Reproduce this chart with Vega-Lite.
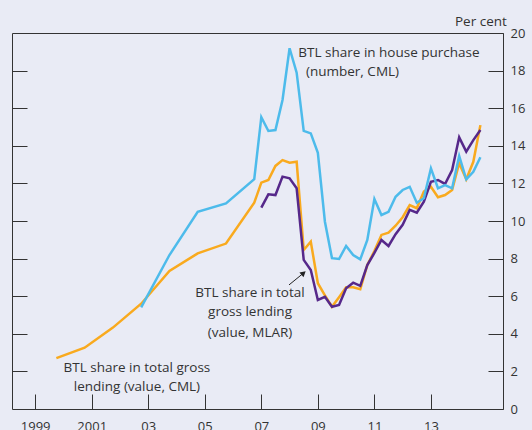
{
  "$schema": "https://vega.github.io/schema/vega-lite/v6.json",
  "autosize": "none",
  "width": 491,
  "height": 376,
  "padding": {"left": 12, "top": 33, "right": 29, "bottom": 21},
  "background": "#e9ebf5",
  "config": {
    "font": "Open Sans",
    "view": {"stroke": "#333333", "strokeWidth": 1},
    "axis": {"labelFont": "Open Sans", "labelFontSize": 13, "labelColor": "#333333", "tickColor": "#333333", "grid": false, "domain": false, "title": null}
  },
  "title": {"text": "Per cent", "anchor": "end", "fontSize": 13.5, "fontWeight": "normal", "color": "#333333", "offset": -1, "dx": -18},
  "datasets": {
    "lines": [
      {"series": "CML value", "t": 1999.75, "v": 2.71},
      {"series": "CML value", "t": 2000.75, "v": 3.26},
      {"series": "CML value", "t": 2001.75, "v": 4.33},
      {"series": "CML value", "t": 2002.75, "v": 5.6},
      {"series": "CML value", "t": 2003.75, "v": 7.34},
      {"series": "CML value", "t": 2004.75, "v": 8.28},
      {"series": "CML value", "t": 2005.75, "v": 8.8},
      {"series": "CML value", "t": 2006.75, "v": 10.97},
      {"series": "CML value", "t": 2007.0, "v": 12.04},
      {"series": "CML value", "t": 2007.25, "v": 12.18},
      {"series": "CML value", "t": 2007.5, "v": 12.93},
      {"series": "CML value", "t": 2007.75, "v": 13.24},
      {"series": "CML value", "t": 2008.0, "v": 13.1},
      {"series": "CML value", "t": 2008.25, "v": 13.15},
      {"series": "CML value", "t": 2008.5, "v": 8.46},
      {"series": "CML value", "t": 2008.75, "v": 8.9},
      {"series": "CML value", "t": 2009.0, "v": 6.69},
      {"series": "CML value", "t": 2009.25, "v": 6.05},
      {"series": "CML value", "t": 2009.5, "v": 5.44},
      {"series": "CML value", "t": 2009.75, "v": 5.95},
      {"series": "CML value", "t": 2010.0, "v": 6.47},
      {"series": "CML value", "t": 2010.25, "v": 6.47},
      {"series": "CML value", "t": 2010.5, "v": 6.37},
      {"series": "CML value", "t": 2010.75, "v": 7.66},
      {"series": "CML value", "t": 2011.0, "v": 8.4},
      {"series": "CML value", "t": 2011.25, "v": 9.26},
      {"series": "CML value", "t": 2011.5, "v": 9.38},
      {"series": "CML value", "t": 2011.75, "v": 9.75},
      {"series": "CML value", "t": 2012.0, "v": 10.2},
      {"series": "CML value", "t": 2012.25, "v": 10.85},
      {"series": "CML value", "t": 2012.5, "v": 10.68},
      {"series": "CML value", "t": 2012.75, "v": 11.56},
      {"series": "CML value", "t": 2013.0, "v": 11.82},
      {"series": "CML value", "t": 2013.25, "v": 11.26},
      {"series": "CML value", "t": 2013.5, "v": 11.38},
      {"series": "CML value", "t": 2013.75, "v": 11.65},
      {"series": "CML value", "t": 2014.0, "v": 13.07},
      {"series": "CML value", "t": 2014.25, "v": 12.22},
      {"series": "CML value", "t": 2014.5, "v": 13.15},
      {"series": "CML value", "t": 2014.75, "v": 15.1},
      {"series": "MLAR value", "t": 2007.0, "v": 10.71},
      {"series": "MLAR value", "t": 2007.25, "v": 11.42},
      {"series": "MLAR value", "t": 2007.5, "v": 11.38},
      {"series": "MLAR value", "t": 2007.75, "v": 12.36},
      {"series": "MLAR value", "t": 2008.0, "v": 12.27},
      {"series": "MLAR value", "t": 2008.25, "v": 11.74},
      {"series": "MLAR value", "t": 2008.5, "v": 7.93},
      {"series": "MLAR value", "t": 2008.75, "v": 7.39},
      {"series": "MLAR value", "t": 2009.0, "v": 5.8},
      {"series": "MLAR value", "t": 2009.25, "v": 5.97},
      {"series": "MLAR value", "t": 2009.5, "v": 5.44},
      {"series": "MLAR value", "t": 2009.75, "v": 5.53},
      {"series": "MLAR value", "t": 2010.0, "v": 6.42},
      {"series": "MLAR value", "t": 2010.25, "v": 6.72},
      {"series": "MLAR value", "t": 2010.5, "v": 6.55},
      {"series": "MLAR value", "t": 2010.75, "v": 7.66},
      {"series": "MLAR value", "t": 2011.0, "v": 8.3},
      {"series": "MLAR value", "t": 2011.25, "v": 8.99},
      {"series": "MLAR value", "t": 2011.5, "v": 8.67},
      {"series": "MLAR value", "t": 2011.75, "v": 9.3},
      {"series": "MLAR value", "t": 2012.0, "v": 9.8},
      {"series": "MLAR value", "t": 2012.25, "v": 10.59},
      {"series": "MLAR value", "t": 2012.5, "v": 10.44},
      {"series": "MLAR value", "t": 2012.75, "v": 11.03},
      {"series": "MLAR value", "t": 2013.0, "v": 12.09},
      {"series": "MLAR value", "t": 2013.25, "v": 12.18},
      {"series": "MLAR value", "t": 2013.5, "v": 11.97},
      {"series": "MLAR value", "t": 2013.75, "v": 12.71},
      {"series": "MLAR value", "t": 2014.0, "v": 14.45},
      {"series": "MLAR value", "t": 2014.25, "v": 13.69},
      {"series": "MLAR value", "t": 2014.5, "v": 14.3},
      {"series": "MLAR value", "t": 2014.75, "v": 14.84},
      {"series": "CML number", "t": 2002.75, "v": 5.41},
      {"series": "CML number", "t": 2003.75, "v": 8.19},
      {"series": "CML number", "t": 2004.75, "v": 10.49},
      {"series": "CML number", "t": 2005.75, "v": 10.94},
      {"series": "CML number", "t": 2006.75, "v": 12.23},
      {"series": "CML number", "t": 2007.0, "v": 15.52},
      {"series": "CML number", "t": 2007.25, "v": 14.79},
      {"series": "CML number", "t": 2007.5, "v": 14.84},
      {"series": "CML number", "t": 2007.75, "v": 16.44},
      {"series": "CML number", "t": 2008.0, "v": 19.19},
      {"series": "CML number", "t": 2008.25, "v": 17.89},
      {"series": "CML number", "t": 2008.5, "v": 14.79},
      {"series": "CML number", "t": 2008.75, "v": 14.66},
      {"series": "CML number", "t": 2009.0, "v": 13.63},
      {"series": "CML number", "t": 2009.25, "v": 9.96},
      {"series": "CML number", "t": 2009.5, "v": 8.02},
      {"series": "CML number", "t": 2009.75, "v": 7.98},
      {"series": "CML number", "t": 2010.0, "v": 8.67},
      {"series": "CML number", "t": 2010.25, "v": 8.19},
      {"series": "CML number", "t": 2010.5, "v": 7.96},
      {"series": "CML number", "t": 2010.75, "v": 8.99},
      {"series": "CML number", "t": 2011.0, "v": 11.17},
      {"series": "CML number", "t": 2011.25, "v": 10.32},
      {"series": "CML number", "t": 2011.5, "v": 10.49},
      {"series": "CML number", "t": 2011.75, "v": 11.29},
      {"series": "CML number", "t": 2012.0, "v": 11.65},
      {"series": "CML number", "t": 2012.25, "v": 11.82},
      {"series": "CML number", "t": 2012.5, "v": 10.97},
      {"series": "CML number", "t": 2012.75, "v": 11.21},
      {"series": "CML number", "t": 2013.0, "v": 12.8},
      {"series": "CML number", "t": 2013.25, "v": 11.74},
      {"series": "CML number", "t": 2013.5, "v": 11.91},
      {"series": "CML number", "t": 2013.75, "v": 11.74},
      {"series": "CML number", "t": 2014.0, "v": 13.46},
      {"series": "CML number", "t": 2014.25, "v": 12.22},
      {"series": "CML number", "t": 2014.5, "v": 12.62},
      {"series": "CML number", "t": 2014.75, "v": 13.39}
    ],
    "leftLabels": [
      {"label": "BTL share in house purchase", "t": 2008.31, "v": 18.96},
      {"label": "(number, CML)", "t": 2008.58, "v": 17.91}
    ],
    "centerLabels": [
      {"label": "BTL share in total", "t": 2006.6, "v": 6.19},
      {"label": "gross lending", "t": 2006.6, "v": 5.15},
      {"label": "(value, MLAR)", "t": 2006.6, "v": 4.06},
      {"label": "BTL share in total gross", "t": 2002.6, "v": 2.17},
      {"label": "lending (value, CML)", "t": 2002.6, "v": 1.18}
    ],
    "arrow": [
      {"t": 2007.98, "v": 6.6, "t2": 2008.47, "v2": 7.2}
    ],
    "arrowHead": [
      {"t": 2008.47, "v": 7.2}
    ]
  },
  "layer": [
    {
      "data": {"name": "lines"},
      "mark": {"type": "line", "strokeWidth": 2.5, "clip": true},
      "encoding": {
        "x": {"field": "t", "type": "quantitative", "scale": {"domain": [1998.18, 2015.55], "nice": false, "zero": false},
          "axis": {"orient": "bottom", "values": [1999, 2001, 2003, 2005, 2007, 2009, 2011, 2013], "tickSize": -15, "labelPadding": 26, "labelExpr": "datum.value <= 2001 ? toString(datum.value) : slice(toString(datum.value), 2)", "labelFlush": false, "labelOverlap": false}},
        "y": {"field": "v", "type": "quantitative", "scale": {"domain": [0, 20], "nice": false},
          "axis": {"orient": "right", "values": [0, 2, 4, 6, 8, 10, 12, 14, 16, 18, 20], "tickSize": -15, "labelPadding": 22, "labelFlush": false, "labelOverlap": false}},
        "color": {"field": "series", "type": "nominal", "scale": {"domain": ["CML value", "MLAR value", "CML number"], "range": ["#f9aa1e", "#56288a", "#4dbbeb"]}, "legend": null}
      }
    },
    {
      "data": {"values": [{"v": 2}]},
      "mark": {"type": "point", "opacity": 0},
      "encoding": {
        "y": {"field": "v", "type": "quantitative",
          "axis": {"orient": "left", "values": [2, 4, 6, 8, 10, 12, 14, 16, 18], "tickSize": -15, "labels": false}}
      }
    },
    {
      "data": {"name": "leftLabels"},
      "mark": {"type": "text", "align": "left", "baseline": "middle", "fontSize": 13.5, "color": "#333333"},
      "encoding": {
        "x": {"field": "t", "type": "quantitative", "axis": null},
        "y": {"field": "v", "type": "quantitative", "axis": null},
        "text": {"field": "label"}
      }
    },
    {
      "data": {"name": "centerLabels"},
      "mark": {"type": "text", "align": "center", "baseline": "middle", "fontSize": 13.5, "color": "#333333"},
      "encoding": {
        "x": {"field": "t", "type": "quantitative", "axis": null},
        "y": {"field": "v", "type": "quantitative", "axis": null},
        "text": {"field": "label"}
      }
    },
    {
      "data": {"name": "arrow"},
      "mark": {"type": "rule", "color": "#222222", "strokeWidth": 1},
      "encoding": {
        "x": {"field": "t", "type": "quantitative", "axis": null},
        "y": {"field": "v", "type": "quantitative", "axis": null},
        "x2": {"field": "t2"},
        "y2": {"field": "v2"}
      }
    },
    {
      "data": {"name": "arrowHead"},
      "mark": {"type": "point", "shape": "triangle", "filled": true, "color": "#222222", "size": 40, "angle": 50, "opacity": 1},
      "encoding": {
        "x": {"field": "t", "type": "quantitative", "axis": null},
        "y": {"field": "v", "type": "quantitative", "axis": null}
      }
    }
  ],
  "resolve": {"axis": {"y": "independent", "x": "independent"}}
}
